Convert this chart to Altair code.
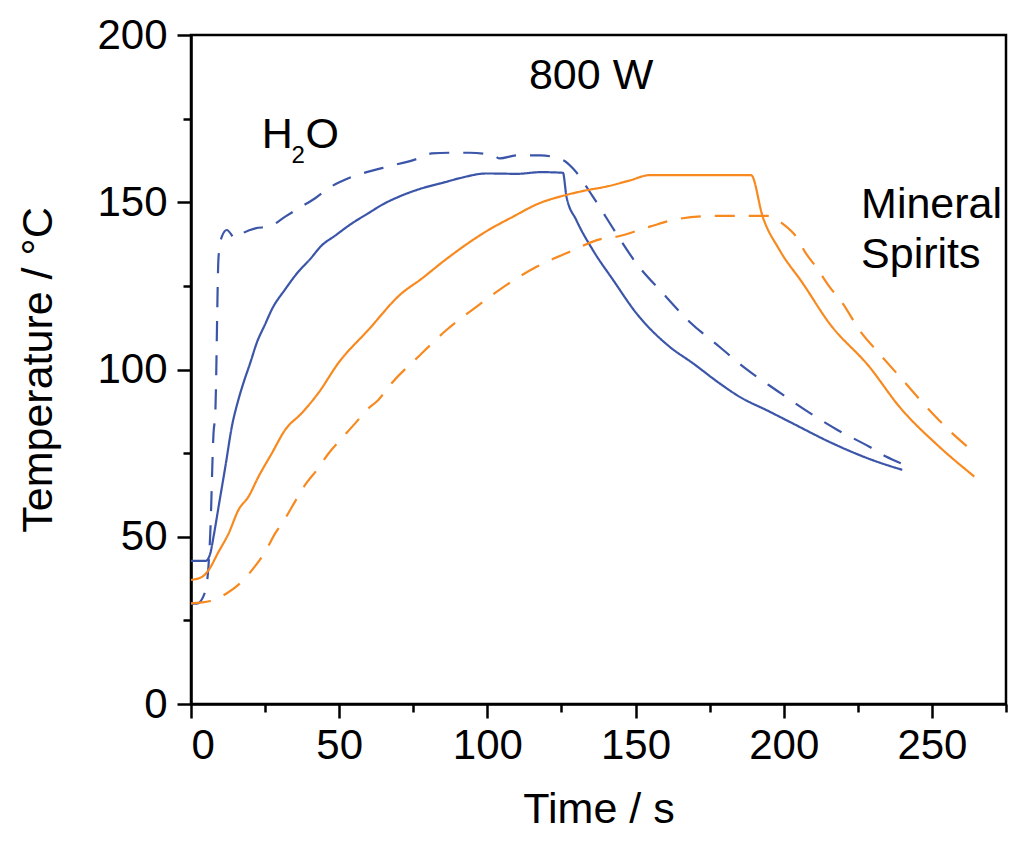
import altair as alt
import pandas as pd

# ---- data ----
h2o_solid_t = [0, 5, 6.5, 7.6, 9.5, 11.6, 13.8, 16, 17.7, 20, 22.2, 25, 27.3, 31.8, 36, 40.2, 44, 48.6, 54,
               59.8, 65, 71.1, 77.3, 85.7, 90.7, 99.7, 110, 118, 125.5, 126.7, 130, 135.6, 142.4, 150.3, 161.5,
               169.3, 178.3, 185, 195, 203, 216.5, 230, 240]
h2o_solid_T = [42.8, 42.8, 45, 50, 60, 71, 83, 91, 96, 102, 108, 113.5, 118, 124, 129, 133, 137, 140, 143.5,
               146.7, 149.5, 152, 154, 156, 157.2, 158.6, 158.5, 159, 158.8, 151.7, 144.7, 135.7, 126.8, 116.8, 106.8,
               101.9, 95.9, 91.9, 87.5, 83.9, 77.9, 72.9, 70]

h2o_dash_t = [0, 2, 4.8, 6.5, 7.6, 8.2, 9.3, 10.4, 12.1, 14.9, 17, 21.7, 26.2, 31.8, 36.3, 41.9, 46.4, 53.1,
              64.4, 76.7, 81.2, 87, 94, 101.9, 104.2, 110, 118, 125.5, 128.9, 135.6, 143.5, 150.3, 159.2, 168.2,
              178.3, 187.3, 198, 208.1, 218, 228.9, 234.5, 239.5]
h2o_dash_T = [30, 30, 33.6, 51, 81, 87, 133.7, 139.7, 141.7, 139.2, 140.5, 142.2, 142.7, 145.7, 148.2, 151.2, 154.2, 157.2,
              160.2, 163.1, 164.6, 164.8, 164.8, 164.1, 163.1, 164, 164, 162.6, 160.1, 151.7, 140.7, 131.7, 122.8, 114.3,
              106.8, 100.2, 93.5, 87.4, 82, 76.9, 74, 72]

ms_solid_t = [0, 3.7, 5.9, 9.3, 12.7, 16, 19.4, 22.8, 27.3, 31.8, 37.4, 43, 49.7, 59.8, 71.1, 77.3, 85.7, 91.8,
              100, 108.7, 117, 126.7, 133, 140.2, 148, 154.8, 170, 189, 192.9, 198.6, 206.4, 215.4, 228.9, 239,
              252.5, 264.3]
ms_solid_T = [37.1, 38, 40, 45.5, 51, 58, 62, 68, 75, 82, 87, 93, 101.9, 111.8, 122.8, 126.8, 132.7, 136.7,
              141.5, 145.7, 149.5, 152.2, 153.5, 154.7, 156.5, 158.1, 158.1, 158.1, 145.7, 135.7, 125.8, 113.8, 100.8, 88.9,
              76.9, 68]

ms_dash_t = [0, 6.5, 12.1, 17.2, 21.1, 25, 28.4, 31.8, 35.1, 38.5, 42.5, 46.4, 50.3, 55.4, 59.3, 63.2, 67.7,
             76.7, 86.2, 96.4, 106.5, 116.6, 127.8, 137.9, 144.6, 154.8, 163.7, 176.1, 194.6, 200.2, 204.2, 207.5,
             210.9, 215.4, 219.9, 225.5, 232.2, 240.1, 249.1, 256.9, 262]
ms_dash_T = [30.1, 30.8, 33.1, 36.6, 40.6, 45.5, 51, 55.5, 60.5, 65.5, 70, 74.9, 78.9, 83.9, 87.9, 90.9, 95.9,
             103.8, 111.8, 118.8, 125.3, 130.7, 135.2, 138.9, 139.9, 142.7, 144.9, 145.9, 145.9, 143.2, 139.7, 134.7,
             130.7, 124.8, 119.8, 111.8, 104.8, 96.9, 87.9, 80.9, 76.9]

series_names = ["H2O solid", "H2O dashed", "MS solid", "MS dashed"]
series_colors = ["#3b55a9", "#3b55a9", "#f7891f", "#f7891f"]
series_dash = [[1, 0], [20, 14], [1, 0], [20, 14]]

x_major = [0, 50, 100, 150, 200, 250]
x_minor = [25, 75, 125, 175, 225, 275]
y_major = [0, 50, 100, 150, 200]
y_minor = [25, 75, 125, 175]

# annotation texts (position in data units)
big_labels = ["800 W", "H", "O", "Mineral", "Spirits"]
big_t = [135, 23.9, 38.6, 226.1, 226.1]
big_T = [184.0, 166.3, 166.3, 145.2, 130.2]
big_align = ["center", "left", "left", "left", "left"]
sub_labels = ["2"]
sub_t = [33.9]
sub_T = [161.6]

frames = []
for name, ts, Ts in [(series_names[0], h2o_solid_t, h2o_solid_T),
                     (series_names[1], h2o_dash_t, h2o_dash_T),
                     (series_names[2], ms_solid_t, ms_solid_T),
                     (series_names[3], ms_dash_t, ms_dash_T)]:
    frames.append(pd.DataFrame({"t": ts, "T": Ts, "series": name}))
df = pd.concat(frames, ignore_index=True)

FONT = "Liberation Sans"
xscale = alt.Scale(domain=[0, 275], nice=False, zero=False)
yscale = alt.Scale(domain=[0, 200], nice=False, zero=False)

lines = alt.Chart(df).mark_line(strokeWidth=2.2, clip=True, interpolate="monotone").encode(
    x=alt.X("t:Q", scale=xscale, axis=alt.Axis(
        values=x_major, tickSize=14, labelFontSize=42, labelPadding=7,
        title="Time / s", titleFontSize=43, titlePadding=22, titleFontWeight="normal",
        orient="bottom")),
    y=alt.Y("T:Q", scale=yscale, axis=alt.Axis(
        values=y_major, tickSize=14, labelFontSize=42, labelPadding=10,
        title="Temperature / °C", titleFontSize=43, titlePadding=36, titleFontWeight="normal",
        orient="left")),
    color=alt.Color("series:N", scale=alt.Scale(domain=series_names, range=series_colors), legend=None),
    strokeDash=alt.StrokeDash("series:N", scale=alt.Scale(domain=series_names, range=series_dash), legend=None),
)

minor_df = pd.DataFrame({"t": x_minor[:4], "T": y_minor})
minor = alt.Chart(minor_df).mark_point(opacity=0).encode(
    x=alt.X("t:Q", scale=xscale, axis=alt.Axis(
        values=x_minor, tickSize=8, labels=False, title=None, domain=False, orient="bottom")),
    y=alt.Y("T:Q", scale=yscale, axis=alt.Axis(
        values=y_minor, tickSize=8, labels=False, title=None, domain=False, orient="left")),
)

big_df = pd.DataFrame({"label": big_labels, "t": big_t, "T": big_T, "align": big_align})
big_center = alt.Chart(big_df[big_df["align"] == "center"]).mark_text(
    fontSize=43, font=FONT, color="black", align="center", baseline="alphabetic").encode(
    x=alt.X("t:Q", scale=xscale, axis=None), y=alt.Y("T:Q", scale=yscale, axis=None), text="label:N")
big_left = alt.Chart(big_df[big_df["align"] == "left"]).mark_text(
    fontSize=43, font=FONT, color="black", align="left", baseline="alphabetic").encode(
    x=alt.X("t:Q", scale=xscale, axis=None), y=alt.Y("T:Q", scale=yscale, axis=None), text="label:N")
sub_df = pd.DataFrame({"label": sub_labels, "t": sub_t, "T": sub_T})
sub = alt.Chart(sub_df).mark_text(
    fontSize=24, font=FONT, color="black", align="left", baseline="alphabetic").encode(
    x=alt.X("t:Q", scale=xscale, axis=None), y=alt.Y("T:Q", scale=yscale, axis=None), text="label:N")

chart = alt.layer(lines, minor, big_center, big_left, sub).resolve_axis(
    x="independent", y="independent"
).properties(
    width=815, height=669,
    autosize=alt.AutoSizeParams(type="none"),
    padding={"left": 183, "top": 27, "right": 10, "bottom": 130},
).configure_view(
    stroke="black", strokeWidth=2.5
).configure_axis(
    domainColor="black", domainWidth=2.5, tickColor="black", tickWidth=2.5,
    labelFont=FONT, titleFont=FONT, labelColor="black", titleColor="black", grid=False,
)

chart.save("out.html", embed_options={"renderer": "svg", "actions": False})
